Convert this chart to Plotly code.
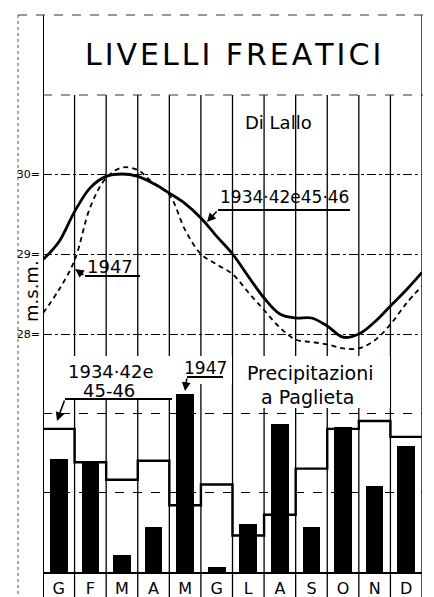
import plotly.graph_objects as go

W, H = 434, 597
PAD = 8  # margine della pagina html
FW, FH = W - PAD, H - PAD

# mesi
months = ["G", "F", "M", "A", "M", "G", "L", "A", "S", "O", "N", "D"]

# livelli freatici (m s.m.) letti ogni mezzo mese, da inizio gennaio a fine dicembre
pos_half = [i / 2 for i in range(25)]
lev_media = [28.93, 29.15, 29.53, 29.83, 29.97, 30.0, 29.97, 29.88, 29.76, 29.63, 29.45, 29.22, 29.0,
             28.72, 28.45, 28.25, 28.2, 28.2, 28.1, 27.96, 28.0, 28.15, 28.35, 28.55, 28.77]
lev_1947 = [28.26, 28.55, 28.92, 29.59, 29.95, 30.08, 30.05, 29.88, 29.74, 29.3, 29.0, 28.87, 28.75,
            28.52, 28.3, 28.08, 27.93, 27.9, 27.87, 27.82, 27.82, 27.92, 28.12, 28.38, 28.6]

# precipitazioni a Paglieta (mm)
prec_media = [90, 69, 58, 70, 42, 55, 23, 36, 65, 90, 95, 85]
prec_1947 = [71, 69, 11, 28, 112, 3, 30, 93, 28, 91, 54, 79]


def fx(p):
    return (p - PAD) / FW


def fy(p):
    return 1 - (p - PAD) / FH


font = "DejaVu Sans"
fig = go.Figure()

fig.add_trace(go.Scatter(x=pos_half, y=lev_media, mode="lines", line=dict(color="black", width=2.8, shape="spline"),
                         yaxis="y", xaxis="x", showlegend=False))
fig.add_trace(go.Scatter(x=pos_half, y=lev_1947, mode="lines",
                         line=dict(color="black", width=1.8, dash="5px,4px", shape="spline"),
                         yaxis="y", xaxis="x", showlegend=False))

fig.add_trace(go.Bar(x=[i + 0.5 for i in range(12)], y=prec_1947, width=0.56, marker=dict(color="black", line_width=0),
                     yaxis="y2", xaxis="x", showlegend=False))
fig.add_trace(go.Scatter(x=list(range(13)), y=prec_media + [prec_media[-1]], mode="lines",
                         line=dict(color="black", width=2.4, shape="hv"), yaxis="y2", xaxis="x", showlegend=False))

shapes = []
# linee verticali dei mesi
for i in range(13):
    top = 15 if i in (0, 12) else 95
    shapes.append(dict(type="line", xref="x", yref="paper", x0=i, x1=i, y0=fy(top), y1=0,
                       line=dict(color="black", width=2 if i == 0 else 1.3)))
# cornice
shapes += [
    dict(type="line", xref="paper", yref="paper", x0=fx(18), x1=fx(18), y0=fy(15), y1=0,
         line=dict(color="#555", width=1, dash="dot")),
    dict(type="line", xref="paper", yref="paper", x0=fx(18), x1=fx(423), y0=fy(15), y1=fy(15),
         line=dict(color="#333", width=1.2, dash="dash")),
    dict(type="line", xref="paper", yref="paper", x0=fx(43), x1=fx(423), y0=fy(95), y1=fy(95),
         line=dict(color="#333", width=1.2, dash="dash")),
]
# riquadri bianchi dietro le scritte
for x0, x1, y0, y1 in [(44, 170, 356, 398), (172, 232, 356, 384), (234, 390, 356, 408)]:
    shapes.append(dict(type="rect", xref="paper", yref="paper", x0=fx(x0), x1=fx(x1), y0=fy(y1), y1=fy(y0),
                       fillcolor="white", line_width=0, layer="above"))
# sottolineature
for x0, x1, y in [(218, 350, 210), (85, 140, 276), (65, 172, 399), (187, 223, 377)]:
    shapes.append(dict(type="line", xref="paper", yref="paper", x0=fx(x0), x1=fx(x1), y0=fy(y), y1=fy(y),
                       line=dict(color="black", width=1.8)))

ann = []


def text(t, x, y, size, angle=0, xanchor="center"):
    ann.append(dict(text=t, x=fx(x), y=fy(y), xref="paper", yref="paper", showarrow=False,
                    font=dict(family=font, size=size, color="black"), textangle=angle,
                    xanchor=xanchor, yanchor="middle"))


def arrow(hx, hy, tx, ty):
    ann.append(dict(text="", x=fx(hx), y=fy(hy), xref="paper", yref="paper", showarrow=True,
                    ax=tx - hx, ay=ty - hy, arrowhead=2, arrowsize=1.1, arrowwidth=1.6, arrowcolor="black"))


text("L\u200aI\u200aV\u200aE\u200aL\u200aL\u200aI\u2009 F\u200aR\u200aE\u200aA\u200aT\u200aI\u200aC\u200aI", 233, 55, 30)
text("Di Lallo", 278, 123, 18)
text("1934·42e45·46", 284, 197, 17)
text("1947", 110, 266, 18)
text("1934·42e", 111, 372, 18)
text("45-46", 109, 390, 18)
text("1947", 205, 368, 17)
text("Precipitazioni", 310, 373, 19)
text("a Paglieta", 307, 397, 19)
text("m.s.m.", 31, 291, 18, -90)
text("mm", 425, 556, 14, -90, "left")
arrow(207, 222, 218, 210)
arrow(75, 269, 85, 276)
arrow(57, 421, 65, 399)
arrow(185, 391, 187, 377)

fig.update_layout(
    width=FW, height=FH, margin=dict(l=0, r=0, t=0, b=0),
    paper_bgcolor="white", plot_bgcolor="white", bargap=0,
    shapes=shapes, annotations=ann,
    xaxis=dict(domain=[fx(43), fx(422)], range=[0, 12], anchor="y2",
               tickvals=[i + 0.5 for i in range(12)], ticktext=months, ticks="",
               showgrid=False, zeroline=False, showline=True, linecolor="black", linewidth=2,
               tickfont=dict(family=font, size=16, color="black"), ticklabelstandoff=1, automargin=False,
               ticklabeloverflow="allow"),
    yaxis=dict(domain=[fy(372), fy(95)], range=[30 - (372 - 174) / 80, 30 + (174 - 95) / 80], anchor="x",
               tickvals=[28, 29, 30], ticktext=["28=", "29=", "30="], ticks="",
               showgrid=True, gridcolor="black", gridwidth=1, griddash="dashdot", zeroline=False,
               tickfont=dict(family=font, size=11, color="black"), ticklabelstandoff=2, automargin=False),
    yaxis2=dict(domain=[fy(572), fy(352)], range=[0, 220 / 1.59], anchor="x", side="right",
                tickvals=[50, 100], ticktext=["50", "100"], ticks="",
                showgrid=True, gridcolor="black", gridwidth=1, griddash="dash", zeroline=False,
                tickfont=dict(family=font, size=14, color="black"), ticklabelstandoff=4, automargin=False,
                ticklabeloverflow="allow"),
)

fig.write_html("out.html")
